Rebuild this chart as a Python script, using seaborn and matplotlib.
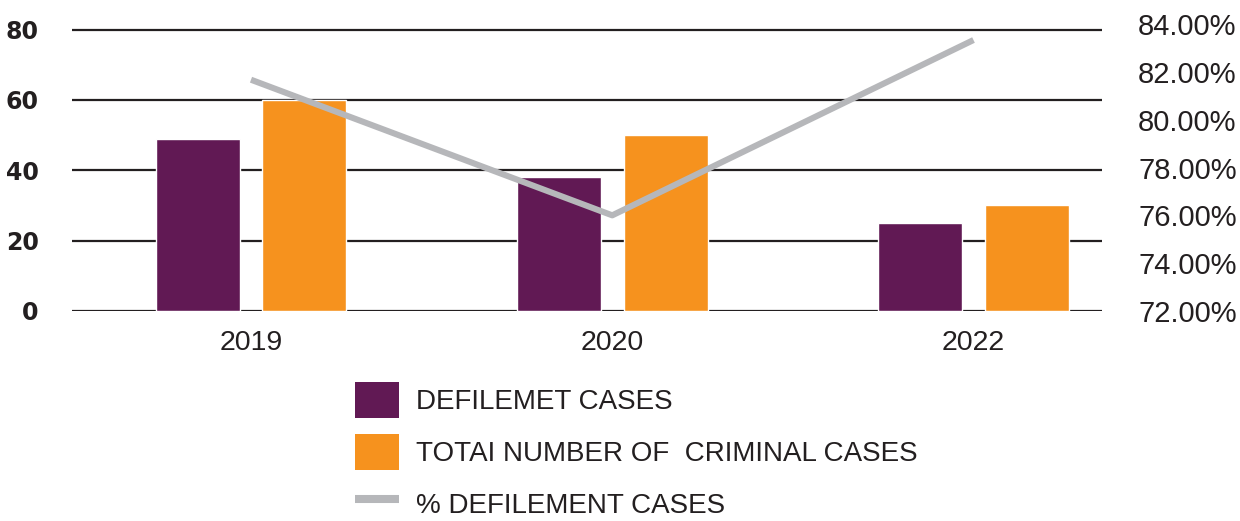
import matplotlib
matplotlib.use("Agg")
import matplotlib.pyplot as plt
from matplotlib.patches import Patch
from matplotlib.lines import Line2D
import seaborn as sns
import pandas as pd

# ---- data ----
years = ["2019", "2020", "2022"]
defilement_cases = [49, 38, 25]
total_criminal_cases = [60, 50, 30]
pct_defilement = [81.67, 76.00, 83.33]

count_ticks = [0, 20, 40, 60, 80]
pct_ticks = [72, 74, 76, 78, 80, 82, 84]

series_names = ["DEFILEMET CASES", "TOTAI NUMBER OF  CRIMINAL CASES"]
line_name = "% DEFILEMENT CASES"

PURPLE = "#611954"
ORANGE = "#f6921e"
GREY = "#b6b7ba"
INK = "#231f20"

df = pd.DataFrame({
    "year": years * 2,
    "series": [series_names[0]] * len(years) + [series_names[1]] * len(years),
    "cases": defilement_cases + total_criminal_cases,
})

sns.set_theme(style="white")
plt.rcParams["font.family"] = ["Liberation Sans", "DejaVu Sans"]

fig = plt.figure(figsize=(12.4, 5.21), dpi=100)
ax = fig.add_axes([72 / 1240, 1 - 311 / 521, 1030 / 1240, 287 / 521])

sns.barplot(data=df, x="year", y="cases", hue="series",
            palette=[PURPLE, ORANGE], width=0.592, gap=0.215,
            saturation=1, legend=False, ax=ax)

ax.set_xlim(-0.4955, 2.3557)
ax.set_ylim(0, 80 * 287 / 281.5)
ax.set_yticks(count_ticks)
ax.set_yticklabels([str(v) for v in count_ticks])
ax.set_axisbelow(True)
ax.yaxis.grid(True, color=INK, linewidth=1.6)
ax.xaxis.grid(False)
for s in ax.spines.values():
    s.set_visible(False)
ax.set_xlabel("")
ax.set_ylabel("")
ax.tick_params(axis="y", length=0, pad=24, labelsize=17, labelcolor=INK)
for lab in ax.get_yticklabels():
    lab.set_fontfamily("DejaVu Sans")
    lab.set_fontweight("bold")
ax.tick_params(axis="x", length=0, pad=14, labelsize=20.5, labelcolor=INK)

# percentage line on the secondary axis
ax2 = ax.twinx()
sns.lineplot(x=[0, 1, 2], y=pct_defilement, ax=ax2, color=GREY,
             linewidth=4.4, solid_capstyle="butt", legend=False)
ax2.set_xlim(-0.4955, 2.3557)
ax2.set_ylim(72, 84)
ax2.set_yticks(pct_ticks)
ax2.set_yticklabels([f"{v:.2f}%" for v in pct_ticks])
ax2.tick_params(axis="y", length=0, pad=26, labelsize=21, labelcolor=INK)
ax2.grid(False)
for s in ax2.spines.values():
    s.set_visible(False)

# legend below the plot
handles = [
    Patch(facecolor=PURPLE, edgecolor="none"),
    Patch(facecolor=ORANGE, edgecolor="none"),
    Line2D([0], [0], color=GREY, linewidth=5.8, solid_capstyle="butt"),
]
fig.legend(handles, series_names + [line_name],
           loc="upper left", bbox_to_anchor=(355 / 1240, 1 - 382 / 521),
           frameon=False, borderpad=0, borderaxespad=0,
           handlelength=1.6, handleheight=1.6, handletextpad=0.6,
           labelspacing=0.58,
           prop={"family": ["Liberation Sans"], "size": 20},
           labelcolor=INK)

fig.savefig("out.png", dpi=100)
